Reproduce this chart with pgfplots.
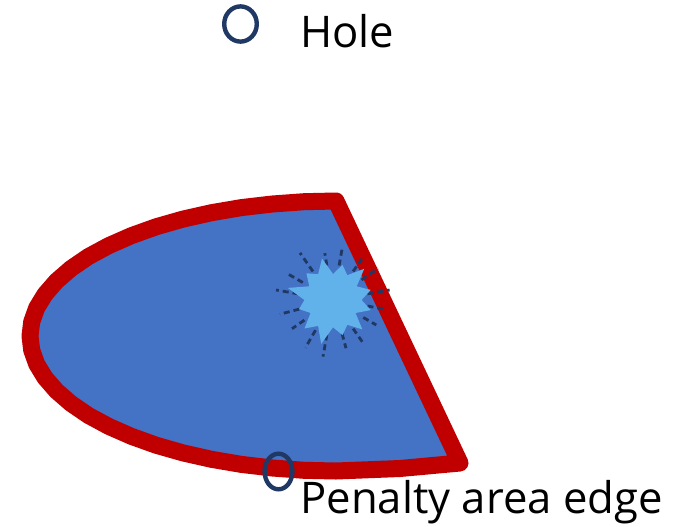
\documentclass[border=0pt]{standalone}
\usepackage{pgfplots}
\pgfplotsset{compat=1.18}
\usepackage{fontspec}
\setmainfont{Open Sans}
\definecolor{areablue}{HTML}{4472C4}
\definecolor{edgered}{HTML}{C00000}
\definecolor{splash}{HTML}{61B1EA}
\definecolor{navy}{HTML}{1F3864}
\begin{document}
\begin{tikzpicture}
\begin{axis}[
    name=ax,
    width=342pt, height=263pt, scale only axis,
    xmin=0, xmax=684, ymin=0, ymax=526,
    hide axis, clip=false,
]
% penalty area: half ellipse on the left, straight edge on the right (pixel units)
\addplot [draw=edgered, fill=areablue, line width=8.5pt, line join=round]
  coordinates {
    (336,325) (304.0,324.3) (272.4,322.0) (241.4,318.4) (211.5,313.3)
    (183.0,306.9) (156.1,299.2) (131.3,290.3) (108.6,280.3) (88.4,269.4)
    (71.0,257.5) (56.5,244.9) (45.0,231.7) (36.7,218.1) (31.7,204.1)
    (30,190) (31.7,175.9) (36.7,161.9) (45.0,148.3) (56.5,135.1)
    (71.0,122.5) (88.4,110.6) (108.6,99.7) (131.3,89.7) (156.1,80.8)
    (183.0,73.1) (211.5,66.7) (241.4,61.6) (272.4,58.0) (304.0,55.7)
    (336,55) (400,57.5) (460,63)
  } -- cycle;
% splash: dark spatter
\addplot [navy, line width=1.4pt, dash pattern=on 3pt off 2pt, unbounded coords=jump]
  coordinates {
    (367.5,232.1) (389.6,236.0) (nan,nan)
    (361.6,246.1) (378.0,257.6) (nan,nan)
    (353.1,254.6) (361.8,267.0) (nan,nan)
    (339.1,260.5) (342.6,280.1) (nan,nan)
    (326.9,260.5) (324.8,272.8) (nan,nan)
    (312.9,254.6) (300.0,273.1) (nan,nan)
    (302.8,243.5) (287.5,252.3) (nan,nan)
    (298.5,232.1) (276.1,236.0) (nan,nan)
    (299.3,216.9) (279.9,211.8) (nan,nan)
    (304.4,205.9) (292.0,197.3) (nan,nan)
    (315.5,195.8) (305.5,178.4) (nan,nan)
    (326.9,191.5) (323.0,169.4) (nan,nan)
    (342.1,192.3) (346.0,177.8) (nan,nan)
    (353.1,197.4) (364.5,181.0) (nan,nan)
    (363.3,208.5) (376.3,201.0) (nan,nan)
    (367.5,220.0) (384.3,216.9)
  };
% splash: light blue blob
\addplot [draw=none, fill=splash]
  coordinates {
    (361.6,226) (370.7,236.1) (356.7,239.7) (364.2,257.2) (347.3,250.8)
    (342.5,261.1) (333,252) (322.0,267.5) (318.1,251.9) (306.4,252.7)
    (309.3,239.7) (287.8,238.1) (304.4,226) (299.1,216.9) (310.5,213)
    (304.5,197.5) (318.1,200.1) (321.2,182.1) (333,198.7) (342.5,190.9)
    (347.3,201.2) (362.4,196.6) (355.5,213) (370.7,215.9)
  } -- cycle;
% hole markers
\addplot [only marks, mark=o, mark size=8.8pt,
  mark options={draw=navy, line width=2.2pt, xscale=0.925}]
  coordinates {(240.5,502)};
\addplot [only marks, mark=o, mark size=8.9pt,
  mark options={draw=navy, line width=2.2pt, xscale=0.78}]
  coordinates {(278.5,54.5)};
\node [anchor=base west, inner sep=0pt, font=\fontsize{21.8}{26}\selectfont]
  at (axis cs:300,479) {Hole};
\node [anchor=base west, inner sep=0pt, font=\fontsize{21.8}{26}\selectfont]
  at (axis cs:300,13) {Penalty area edge};
\end{axis}
\pgfresetboundingbox
\path (ax.south west) rectangle (ax.north east);
\end{tikzpicture}
\end{document}
